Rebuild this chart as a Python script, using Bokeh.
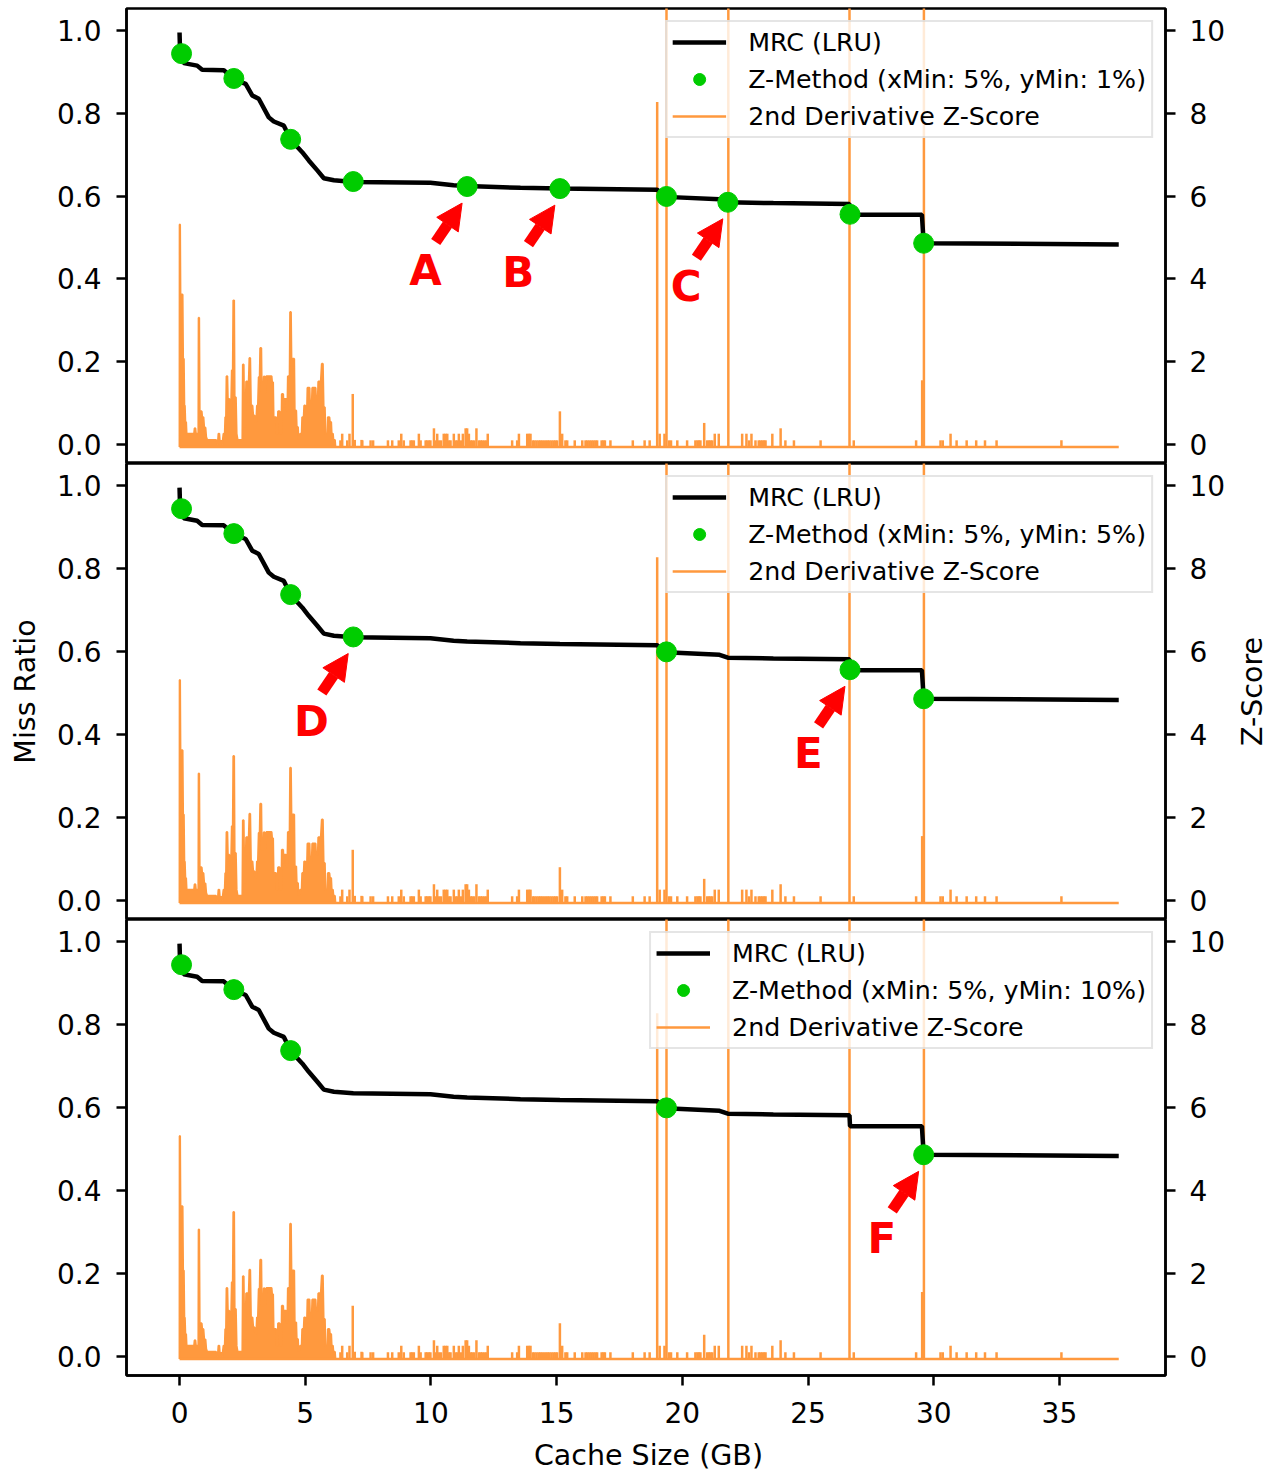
import math
from bokeh.plotting import figure
from bokeh.layouts import column, row
from bokeh.models import (Range1d, LinearAxis, FixedTicker, PrintfTickFormatter,
                          Legend, LegendItem, Arrow, NormalHead, Label)
from bokeh.embed import file_html
from bokeh.resources import INLINE

# ---------------- data ----------------
# Miss ratio curve (LRU): cache size (GB) vs miss ratio
mrc_x = [0.00, 0.02, 0.08, 0.17, 0.70, 0.90, 1.76, 2.16, 2.63, 2.89, 3.15, 3.55, 3.75,
         4.15, 4.42, 4.88, 5.14, 5.48, 5.74, 6.14, 6.91, 9.98, 10.90, 11.44, 13.56,
         15.13, 19.00, 19.34, 21.48, 21.81, 23.62, 26.65, 26.67, 29.53, 29.60, 37.36]
mrc_y = [0.995, 0.950, 0.944, 0.921, 0.915, 0.905, 0.904, 0.882, 0.871, 0.843, 0.835,
         0.790, 0.780, 0.770, 0.736, 0.706, 0.686, 0.662, 0.643, 0.638, 0.634, 0.632,
         0.626, 0.624, 0.620, 0.618, 0.615, 0.598, 0.592, 0.585, 0.583, 0.581, 0.555,
         0.555, 0.486, 0.483]

# 2nd derivative z-score, dense part (envelope), (cache size GB, z)
z_dense = [(0.00, -0.06), (0.005, 5.31), (0.02, 5.31), (0.035, 3.62), (0.12, 3.62), (0.14, 2.07),
           (0.17, 2.07), (0.19, 0.94), (0.21, 0.94), (0.23, 0.54), (0.26, 0.54), (0.28, 0.26),
           (0.58, 0.26), (0.60, 0.39), (0.63, 0.39), (0.65, 0.26), (0.75, 0.26), (0.76, 3.06),
           (0.78, 3.06), (0.80, 0.80), (0.88, 0.80), (0.90, 0.66), (0.95, 0.66), (0.98, 0.41),
           (1.03, 0.41), (1.06, 0.18), (1.10, 0.11), (1.45, 0.11), (1.52, 0.00), (1.55, 0.26),
           (1.58, 0.26), (1.61, 0.00), (1.65, 0.10), (1.70, 0.00), (1.75, 0.26), (1.80, 0.26),
           (1.82, 0.66), (1.85, 0.66), (1.87, 1.65), (1.90, 1.65), (1.92, 1.10), (1.98, 1.10),
           (2.00, 0.86), (2.05, 0.86), (2.08, 1.79), (2.12, 1.79), (2.14, 3.48), (2.17, 3.48),
           (2.19, 1.14), (2.24, 1.14), (2.27, 0.26), (2.31, 0.11), (2.50, 0.11), (2.52, 1.93),
           (2.55, 1.93), (2.58, 0.42), (2.62, 0.42), (2.65, 1.52), (2.70, 1.52), (2.73, 1.00),
           (2.78, 2.09), (2.81, 2.09), (2.84, 0.94), (2.90, 0.94), (2.93, 0.70), (2.98, 0.70),
           (3.01, 0.54), (3.05, 0.54), (3.08, 0.94), (3.12, 0.94), (3.15, 1.63), (3.19, 1.63),
           (3.21, 2.33), (3.25, 2.33), (3.27, 1.22), (3.33, 1.22), (3.35, 1.64), (3.38, 1.64),
           (3.40, 1.26), (3.43, 1.26), (3.45, 1.65), (3.66, 1.65), (3.68, 1.50), (3.72, 1.50),
           (3.74, 0.66), (3.84, 0.66), (3.86, 0.26), (3.90, 0.26), (3.92, 0.80), (3.98, 0.80),
           (4.00, 0.26), (4.05, 0.26), (4.07, 1.22), (4.12, 1.22), (4.14, 0.90), (4.17, 1.10),
           (4.24, 1.10), (4.26, 0.82), (4.29, 0.82), (4.31, 1.65), (4.38, 1.65), (4.40, 3.20),
           (4.43, 3.20), (4.45, 2.07), (4.56, 2.07), (4.58, 0.82), (4.64, 0.82), (4.66, 0.42),
           (4.71, 0.42), (4.73, 0.13), (4.78, 0.13), (4.80, 0.26), (4.86, 0.26), (4.88, 0.66),
           (4.94, 0.66), (4.96, 0.94), (5.00, 0.94), (5.02, 0.82), (5.07, 0.82), (5.09, 1.37),
           (5.17, 1.37), (5.19, 0.95), (5.26, 0.95), (5.28, 1.37), (5.41, 1.37), (5.43, 1.10),
           (5.50, 1.10), (5.52, 1.52), (5.62, 1.52), (5.66, 1.95), (5.70, 1.95), (5.73, 0.90),
           (5.78, 0.90), (5.80, 0.26), (5.88, 0.26), (5.90, 0.66), (5.96, 0.66), (5.98, 0.54),
           (6.03, 0.54), (6.05, 0.26), (6.10, 0.26), (6.12, 0.11), (6.18, 0.11), (6.20, -0.06)]

# 2nd derivative z-score, isolated spikes (cache size GB, z)
z_spikes = [(6.40, 0.10), (6.47, 0.26), (6.67, 0.10), (6.76, 0.26), (6.89, 1.22), (6.97, 0.11),
            (7.24, 0.11), (7.27, 0.10), (7.60, 0.10), (7.70, 0.10), (8.29, 0.10), (8.46, 0.10),
            (8.72, 0.10), (8.82, 0.26), (8.92, 0.10), (9.19, 0.10), (9.25, 0.10), (9.32, 0.10),
            (9.52, 0.26), (9.59, 0.10), (9.79, 0.10), (9.85, 0.10), (9.92, 0.10), (9.98, 0.10),
            (10.12, 0.39), (10.19, 0.10), (10.25, 0.26), (10.32, 0.10), (10.40, 0.10), (10.51, 0.26),
            (10.58, 0.26), (10.65, 0.26), (10.72, 0.10), (10.78, 0.10), (10.91, 0.26), (10.98, 0.10),
            (11.05, 0.10), (11.11, 0.26), (11.19, 0.10), (11.27, 0.26), (11.38, 0.39), (11.44, 0.39),
            (11.51, 0.26), (11.58, 0.10), (11.64, 0.10), (11.72, 0.10), (11.81, 0.39), (11.91, 0.10),
            (11.98, 0.10), (12.04, 0.10), (12.12, 0.10), (12.20, 0.10), (12.26, 0.26), (13.23, 0.10),
            (13.43, 0.10), (13.50, 0.26), (13.83, 0.26), (13.90, 0.26), (13.96, 0.26), (14.05, 0.10),
            (14.12, 0.10), (14.20, 0.10), (14.28, 0.10), (14.35, 0.10), (14.42, 0.10), (14.50, 0.10),
            (14.58, 0.10), (14.65, 0.10), (14.72, 0.10), (14.80, 0.10), (14.88, 0.10), (14.95, 0.10),
            (15.02, 0.10), (15.13, 0.80), (15.22, 0.26), (15.35, 0.10), (15.42, 0.10), (15.72, 0.10),
            (16.02, 0.10), (16.15, 0.10), (16.22, 0.10), (16.30, 0.10), (16.38, 0.10), (16.46, 0.10),
            (16.54, 0.10), (16.61, 0.10), (16.79, 0.10), (16.86, 0.10), (16.92, 0.10), (17.14, 0.10),
            (18.03, 0.10), (18.50, 0.10), (18.70, 0.10), (19.00, 8.27), (19.10, 0.26), (19.29, 0.26),
            (19.37, 12.0), (19.47, 0.10), (19.55, 0.10), (19.80, 0.10), (20.19, 0.10), (20.52, 0.10),
            (20.60, 0.10), (20.66, 0.10), (20.72, 0.10), (20.87, 0.52), (20.99, 0.10), (21.06, 0.10),
            (21.12, 0.10), (21.19, 0.10), (21.29, 0.26), (21.45, 0.26), (21.83, 12.0), (22.38, 0.26),
            (22.55, 0.26), (22.65, 0.10), (22.75, 0.26), (22.91, 0.10), (23.04, 0.10), (23.11, 0.10),
            (23.18, 0.10), (23.25, 0.10), (23.31, 0.10), (23.58, 0.26), (23.91, 0.39), (24.10, 0.10),
            (24.44, 0.10), (25.50, 0.10), (26.65, 12.0), (26.82, 0.10), (29.30, 0.10), (29.54, 1.55),
            (29.61, 12.0), (30.27, 0.10), (30.36, 0.10), (30.67, 0.26), (30.91, 0.10), (31.31, 0.10),
            (31.69, 0.10), (32.04, 0.10), (32.50, 0.10), (35.08, 0.10)]
z_base = -0.06
z_last_x = 37.36

# Z-method knee points for each panel
knee1_x = [0.08, 2.16, 4.42, 6.91, 11.44, 15.13, 19.37, 21.81, 26.67, 29.60]
knee1_y = [0.944, 0.884, 0.737, 0.635, 0.623, 0.618, 0.599, 0.585, 0.556, 0.486]
knee2_x = [0.08, 2.16, 4.42, 6.91, 19.37, 26.67, 29.60]
knee2_y = [0.944, 0.884, 0.737, 0.635, 0.599, 0.556, 0.486]
knee3_x = [0.08, 2.16, 4.42, 19.37, 29.60]
knee3_y = [0.944, 0.884, 0.737, 0.599, 0.486]

legend_labels = ["Z-Method (xMin: 5%, yMin: 1%)",
                 "Z-Method (xMin: 5%, yMin: 5%)",
                 "Z-Method (xMin: 5%, yMin: 10%)"]

# annotated points (letter, x, y) per panel
annot1 = [("A", 11.44, 0.623), ("B", 15.13, 0.618), ("C", 21.81, 0.585)]
annot2 = [("D", 6.91, 0.635), ("E", 26.67, 0.556)]
annot3 = [("F", 29.60, 0.486)]

x_ticks = [0, 5, 10, 15, 20, 25, 30, 35]
y_ticks = [0.0, 0.2, 0.4, 0.6, 0.8, 1.0]
z_ticks = [0, 2, 4, 6, 8, 10]

x_title = "Cache Size (GB)"
y_title = "Miss Ratio"
z_title = "Z-Score"

# ---------------- drawing ----------------
FONT = "DejaVu Sans"
ORANGE = "#ff993e"
GREEN = "#00cc00"
X0, X1 = -2.11, 39.22
Y0, Y1 = -0.046, 1.053
W = 1278
STRIP_W = 45          # strip on the right of the middle panel holding the Z-Score title

zd_x = [p[0] for p in z_dense]
zd_z = [p[1] for p in z_dense]
zs_x = [p[0] for p in z_spikes]
zs_z = [p[1] for p in z_spikes]


def style_axis(ax):
    ax.axis_line_width = 2.5
    ax.axis_line_color = "black"
    ax.major_tick_line_width = 2.5
    ax.major_tick_line_color = "black"
    ax.major_tick_out = 10
    ax.major_tick_in = 0
    ax.minor_tick_line_color = None
    ax.major_label_text_font = FONT
    ax.major_label_text_font_size = "28px"
    ax.major_label_text_color = "black"
    ax.axis_label_text_font = FONT
    ax.axis_label_text_font_size = "28.5px"
    ax.axis_label_text_font_style = "normal"
    ax.axis_label_text_color = "black"


def text_strip(width, height, text, angle, fx, fy):
    s = figure(width=width, height=height, x_range=Range1d(0, 1), y_range=Range1d(0, 1),
               output_backend="svg", toolbar_location=None,
               x_axis_location=None, y_axis_location=None,
               min_border_left=0, min_border_right=0, min_border_top=0, min_border_bottom=0)
    s.grid.visible = False
    s.outline_line_color = None
    s.border_fill_color = "white"
    s.background_fill_color = "white"
    s.add_layout(Label(x=fx, y=fy, text=text, angle=angle,
                       text_font=FONT, text_font_size="28.5px", text_color="black",
                       text_align="center", text_baseline="middle"))
    return s


def make_panel(kx, ky, label, annots, width, height, top, bottom, right, show_x, show_ylabel):
    p = figure(width=width, height=height,
               x_range=Range1d(X0, X1), y_range=Range1d(Y0, Y1),
               output_backend="svg", toolbar_location=None,
               min_border_left=126, min_border_right=right,
               min_border_top=top, min_border_bottom=bottom,
               x_axis_location="below" if show_x else None,
               y_axis_location="left")
    p.extra_y_ranges = {"z": Range1d(-0.46, 10.53)}
    p.xgrid.grid_line_color = None
    p.ygrid.grid_line_color = None
    p.outline_line_color = "black"
    p.outline_line_width = 2.5
    p.background_fill_color = "white"
    p.border_fill_color = "white"

    yax = p.yaxis[0]
    yax.ticker = FixedTicker(ticks=y_ticks)
    yax.formatter = PrintfTickFormatter(format="%.1f")
    style_axis(yax)
    yax.major_label_standoff = 15
    if show_ylabel:
        yax.axis_label = y_title
        yax.axis_label_standoff = 12

    rax = LinearAxis(y_range_name="z", ticker=FixedTicker(ticks=z_ticks))
    style_axis(rax)
    rax.major_label_standoff = 14
    p.add_layout(rax, "right")

    if show_x:
        xax = p.xaxis[0]
        xax.ticker = FixedTicker(ticks=x_ticks)
        style_axis(xax)
        xax.major_label_standoff = 16

    # z-score (right axis)
    p.varea(x=zd_x, y1=z_base, y2=zd_z, y_range_name="z", fill_color=ORANGE)
    p.line(zd_x, zd_z, y_range_name="z", line_color=ORANGE, line_width=2)
    p.segment(x0=zs_x, y0=[z_base] * len(zs_x), x1=zs_x, y1=zs_z, y_range_name="z",
              line_color=ORANGE, line_width=2.5)
    r_z = p.line([0.0, z_last_x], [z_base, z_base], y_range_name="z",
                 line_color=ORANGE, line_width=2.5)

    # MRC
    r_mrc = p.line(mrc_x, mrc_y, line_color="black", line_width=4.5)
    # knees
    r_k = p.scatter(kx, ky, size=20, fill_color=GREEN, line_color=GREEN)

    legend = Legend(items=[LegendItem(label="MRC (LRU)", renderers=[r_mrc]),
                           LegendItem(label=label, renderers=[r_k]),
                           LegendItem(label="2nd Derivative Z-Score", renderers=[r_z])],
                    location="top_right")
    legend.label_text_font = FONT
    legend.label_text_font_size = "25.3px"
    legend.label_text_color = "black"
    legend.border_line_color = "#cccccc"
    legend.border_line_width = 2.5
    legend.background_fill_alpha = 0.8
    legend.margin = 12
    legend.padding = 5
    legend.spacing = 7
    legend.glyph_width = 54
    legend.glyph_height = 30
    legend.label_height = 30
    legend.label_standoff = 22
    p.add_layout(legend)

    for letter, ax_, ay_ in annots:
        p.add_layout(Arrow(end=NormalHead(size=26, fill_color="red", line_color="red", line_width=1),
                           x_start=ax_ - 1.25, y_start=ay_ - 0.134,
                           x_end=ax_ - 0.20, y_end=ay_ - 0.040,
                           line_color="red", line_width=11))
        p.add_layout(Label(x=ax_ - 1.66, y=ay_ - 0.203, text=letter,
                           text_font=FONT, text_font_style="bold",
                           text_font_size="42px", text_color="red",
                           text_align="center", text_baseline="middle"))
    return p


p1 = make_panel(knee1_x, knee1_y, legend_labels[0], annot1, W, 463, 8, 0, 113, False, False)
p2 = make_panel(knee2_x, knee2_y, legend_labels[1], annot2, W - STRIP_W, 456, 0, 0,
                113 - STRIP_W, False, True)
z_strip = text_strip(STRIP_W, 456, z_title, math.pi / 2, 0.42, 0.50)
p3 = make_panel(knee3_x, knee3_y, legend_labels[2], annot3, W, 520, 0, 64, 113, True, False)
x_strip = text_strip(W, 32, x_title, 0.0, 642.0 / W, 0.5)

layout = column(p1, row(p2, z_strip, spacing=0), p3, x_strip, spacing=0)
open("out.html", "w").write(file_html(layout, INLINE))
